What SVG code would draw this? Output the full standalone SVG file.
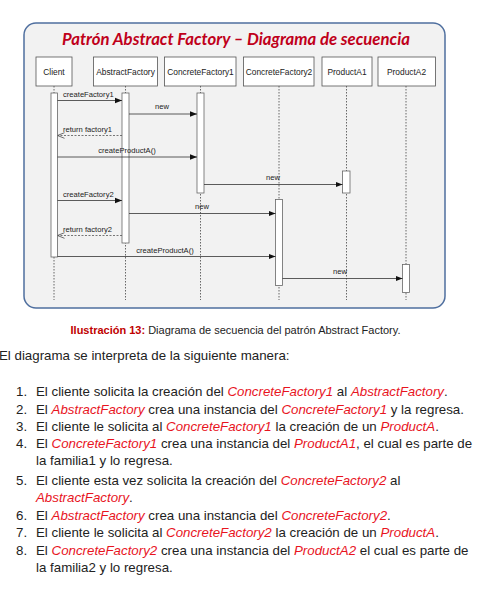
<svg xmlns="http://www.w3.org/2000/svg" width="490" height="597" viewBox="0 0 490 597">
<style>
.hdr{fill:#fff;stroke:#555;stroke-width:0.8}
.hdrt{font-family:"Liberation Sans",Arial,sans-serif;font-size:8.4px;fill:#222;text-anchor:middle}
.life{stroke:#444;stroke-width:0.8;stroke-dasharray:1.5,1.5;fill:none}
.act{fill:#fff;stroke:#666;stroke-width:0.8}
.msg{stroke:#333;stroke-width:0.8;fill:none}
.ret{stroke:#555;stroke-width:0.8;fill:none;stroke-dasharray:2,1.5}
.lbl{font-family:"Liberation Sans",Arial,sans-serif;font-size:7.6px;fill:#222}
.body{font-family:"Liberation Sans",Arial,sans-serif;font-size:13.3px;fill:#222}
.r{fill:#e8141e;font-style:italic}
</style>
<defs>
<marker id="fill" viewBox="0 0 10 10" refX="10" refY="5" markerWidth="7" markerHeight="7" markerUnits="userSpaceOnUse" orient="auto"><path d="M0,1 L10,5 L0,9 z" fill="#111"/></marker>
<marker id="open" viewBox="0 0 10 10" refX="10" refY="5" markerWidth="7" markerHeight="7" markerUnits="userSpaceOnUse" orient="auto"><path d="M0,1 L10,5 L0,9" fill="none" stroke="#555" stroke-width="1.2"/></marker>
</defs>
<rect x="24" y="23" width="421" height="285" rx="12" fill="#f2f2f2" stroke="#4f6f9f" stroke-width="1.5"/>
<text x="236" y="45" text-anchor="middle" font-family="Lato,'Open Sans',sans-serif" font-size="17" font-weight="bold" font-style="italic" fill="#c0001a" textLength="348" lengthAdjust="spacingAndGlyphs">Patrón Abstract Factory – Diagrama de secuencia</text>
<g id="lifelines">
<line class="life" x1="54" y1="86" x2="54" y2="300"/>
<line class="life" x1="125.5" y1="86" x2="125.5" y2="300"/>
<line class="life" x1="200.5" y1="86" x2="200.5" y2="300"/>
<line class="life" x1="279" y1="86" x2="279" y2="300"/>
<line class="life" x1="346.5" y1="86" x2="346.5" y2="300"/>
<line class="life" x1="406" y1="86" x2="406" y2="300"/>
</g>
<g id="client"><rect class="hdr" x="36" y="57" width="36" height="29"/><text class="hdrt" x="54" y="74.5">Client</text><rect class="act" x="51" y="93" width="6.5" height="164"/></g>
<g id="abstractfactory"><rect class="hdr" x="93.5" y="57" width="64" height="29"/><text class="hdrt" x="125.5" y="74.5">AbstractFactory</text><rect class="act" x="122" y="93" width="7" height="150"/></g>
<g id="concretefactory1"><rect class="hdr" x="164.5" y="57" width="71.5" height="29"/><text class="hdrt" x="200.5" y="74.5">ConcreteFactory1</text><rect class="act" x="197" y="93" width="7" height="100"/></g>
<g id="concretefactory2"><rect class="hdr" x="243.5" y="57" width="70.5" height="29"/><text class="hdrt" x="279" y="74.5">ConcreteFactory2</text><rect class="act" x="275.5" y="199.5" width="7" height="86"/></g>
<g id="producta1"><rect class="hdr" x="322" y="57" width="50" height="29"/><text class="hdrt" x="347" y="74.5">ProductA1</text><rect class="act" x="342.5" y="171" width="7.5" height="22"/></g>
<g id="producta2"><rect class="hdr" x="378" y="57" width="57.5" height="29"/><text class="hdrt" x="406.5" y="74.5">ProductA2</text><rect class="act" x="402.5" y="264.5" width="7" height="28"/></g>
<g id="connectors">
<line class="msg" x1="57.5" y1="100.5" x2="122" y2="100.5" marker-end="url(#fill)"/>
<text class="lbl" x="63" y="97">createFactory1</text>
<line class="msg" x1="129" y1="114" x2="197" y2="114" marker-end="url(#fill)"/>
<text class="lbl" x="162" y="109" text-anchor="middle">new</text>
<line class="ret" x1="122" y1="135.5" x2="57.5" y2="135.5" marker-end="url(#open)"/>
<text class="lbl" x="63" y="132">return factory1</text>
<line class="msg" x1="57.5" y1="157" x2="197" y2="157" marker-end="url(#fill)"/>
<text class="lbl" x="127" y="153" text-anchor="middle">createProductA()</text>
<line class="msg" x1="204" y1="184.5" x2="342.5" y2="184.5" marker-end="url(#fill)"/>
<text class="lbl" x="273" y="180" text-anchor="middle">new</text>
<line class="msg" x1="57.5" y1="200.5" x2="122" y2="200.5" marker-end="url(#fill)"/>
<text class="lbl" x="63" y="197">createFactory2</text>
<line class="msg" x1="129" y1="213.5" x2="275.5" y2="213.5" marker-end="url(#fill)"/>
<text class="lbl" x="202" y="209" text-anchor="middle">new</text>
<line class="ret" x1="122" y1="235.5" x2="57.5" y2="235.5" marker-end="url(#open)"/>
<text class="lbl" x="63" y="232">return factory2</text>
<line class="msg" x1="57.5" y1="256.5" x2="275.5" y2="256.5" marker-end="url(#fill)"/>
<text class="lbl" x="165" y="253" text-anchor="middle">createProductA()</text>
<line class="msg" x1="282.5" y1="278.5" x2="402.5" y2="278.5" marker-end="url(#fill)"/>
<text class="lbl" x="340" y="274" text-anchor="middle">new</text>
</g>
<text x="235.5" y="334" text-anchor="middle" font-family="'Liberation Sans',Arial,sans-serif" font-size="11" fill="#222"><tspan font-weight="bold" fill="#c00000">Ilustración 13:</tspan> Diagrama de secuencia del patrón Abstract Factory.</text>
<text class="body" x="-1" y="360" font-size="14.3">El diagrama se interpreta de la siguiente manera:</text>
<g class="body">
<text x="16" y="396">1.</text><text x="36" y="396">El cliente solicita la creación del <tspan class="r">ConcreteFactory1</tspan> al <tspan class="r">AbstractFactory</tspan>.</text>
<text x="16" y="413.5">2.</text><text x="36" y="413.5">El <tspan class="r">AbstractFactory</tspan> crea una instancia del <tspan class="r">ConcreteFactory1</tspan> y la regresa.</text>
<text x="16" y="430.5">3.</text><text x="36" y="430.5">El cliente le solicita al <tspan class="r">ConcreteFactory1</tspan> la creación de un <tspan class="r">ProductA</tspan>.</text>
<text x="16" y="448">4.</text><text x="36" y="448">El <tspan class="r">ConcreteFactory1</tspan> crea una instancia del <tspan class="r">ProductA1</tspan>, el cual es parte de</text>
<text x="36" y="465">la familia1 y lo regresa.</text>
<text x="16" y="484.5">5.</text><text x="36" y="484.5">El cliente esta vez solicita la creación del <tspan class="r">ConcreteFactory2</tspan> al</text>
<text x="36" y="502"><tspan class="r">AbstractFactory</tspan>.</text>
<text x="16" y="520">6.</text><text x="36" y="520">El <tspan class="r">AbstractFactory</tspan> crea una instancia del <tspan class="r">ConcreteFactory2</tspan>.</text>
<text x="16" y="536.5">7.</text><text x="36" y="536.5">El cliente le solicita al <tspan class="r">ConcreteFactory2</tspan> la creación de un <tspan class="r">ProductA</tspan>.</text>
<text x="16" y="554.5">8.</text><text x="36" y="554.5">El <tspan class="r">ConcreteFactory2</tspan> crea una instancia del <tspan class="r">ProductA2</tspan> el cual es parte de</text>
<text x="36" y="572">la familia2 y lo regresa.</text>
</g>
</svg>
